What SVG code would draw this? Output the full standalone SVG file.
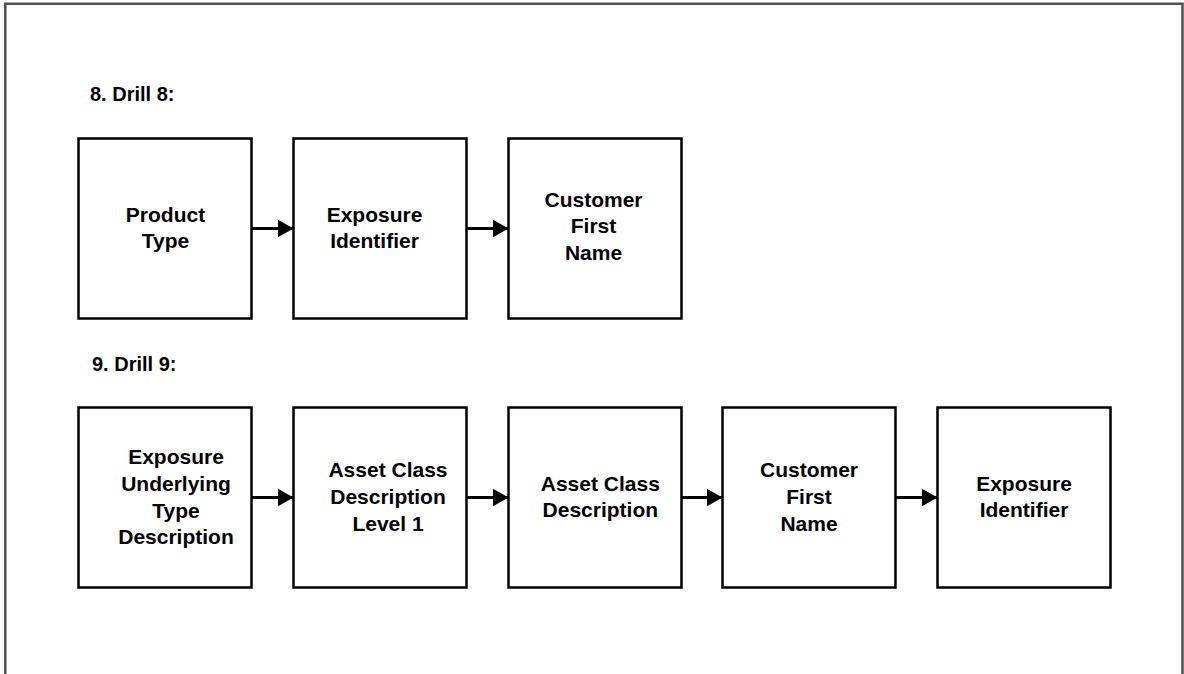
<svg xmlns="http://www.w3.org/2000/svg" width="1184" height="674" viewBox="0 0 1184 674">
<style>
.box{fill:#fff;stroke:#000;stroke-width:2.5}
.t{font-family:"Liberation Sans",Arial,sans-serif;font-weight:bold;font-size:21px;fill:#000;text-anchor:middle}
.title{font-family:"Liberation Sans",Arial,sans-serif;font-weight:bold;font-size:20px;fill:#000}
.c{stroke:#000;stroke-width:3;fill:none;marker-end:url(#ah)}
</style>
<defs>
<marker id="ah" markerUnits="userSpaceOnUse" markerWidth="17" markerHeight="18" refX="16" refY="9" orient="auto">
<path d="M0,0 L16,9 L0,18 Z" fill="#000"/>
</marker>
</defs>
<rect width="1184" height="674" fill="#fff"/>
<path d="M5.3,674 V3.7 H1182.5 V674" fill="none" stroke="#505050" stroke-width="2.5"/>
<text class="title" x="90" y="100.5">8. Drill 8:</text>
<text class="title" x="92" y="370.5">9. Drill 9:</text>
<g id="connectors">
<line class="c" x1="251.5" y1="228.5" x2="293.5" y2="228.5"/>
<line class="c" x1="466.5" y1="228.5" x2="508.5" y2="228.5"/>
<line class="c" x1="251.5" y1="497.5" x2="293.5" y2="497.5"/>
<line class="c" x1="466.5" y1="497.5" x2="508.5" y2="497.5"/>
<line class="c" x1="681.5" y1="497.5" x2="722.5" y2="497.5"/>
<line class="c" x1="895.5" y1="497.5" x2="937.5" y2="497.5"/>
</g>
<g id="n1"><rect class="box" x="78.5" y="138.5" width="173" height="180"/>
<text class="t" x="165.5" y="221.7">Product</text><text class="t" x="165.5" y="248.3">Type</text></g>
<g id="n2"><rect class="box" x="293.5" y="138.5" width="173" height="180"/>
<text class="t" x="374.5" y="221.7">Exposure</text><text class="t" x="374.5" y="248.3">Identifier</text></g>
<g id="n3"><rect class="box" x="508.5" y="138.5" width="173" height="180"/>
<text class="t" x="593.5" y="206.7">Customer</text><text class="t" x="593.5" y="233.3">First</text><text class="t" x="593.5" y="260">Name</text></g>
<g id="n4"><rect class="box" x="78.5" y="407.5" width="173" height="180"/>
<text class="t" x="176" y="463.5">Exposure</text><text class="t" x="176" y="490.5">Underlying</text><text class="t" x="176" y="517.5">Type</text><text class="t" x="176" y="544">Description</text></g>
<g id="n5"><rect class="box" x="293.5" y="407.5" width="173" height="180"/>
<text class="t" x="388" y="477.3">Asset Class</text><text class="t" x="388" y="504">Description</text><text class="t" x="388" y="530.7">Level 1</text></g>
<g id="n6"><rect class="box" x="508.5" y="407.5" width="173" height="180"/>
<text class="t" x="600.3" y="490.5">Asset Class</text><text class="t" x="600.3" y="517">Description</text></g>
<g id="n7"><rect class="box" x="722.5" y="407.5" width="173" height="180"/>
<text class="t" x="809" y="477.3">Customer</text><text class="t" x="809" y="504">First</text><text class="t" x="809" y="530.7">Name</text></g>
<g id="n8"><rect class="box" x="937.5" y="407.5" width="173" height="180"/>
<text class="t" x="1024" y="490.7">Exposure</text><text class="t" x="1024" y="517.3">Identifier</text></g>
</svg>
